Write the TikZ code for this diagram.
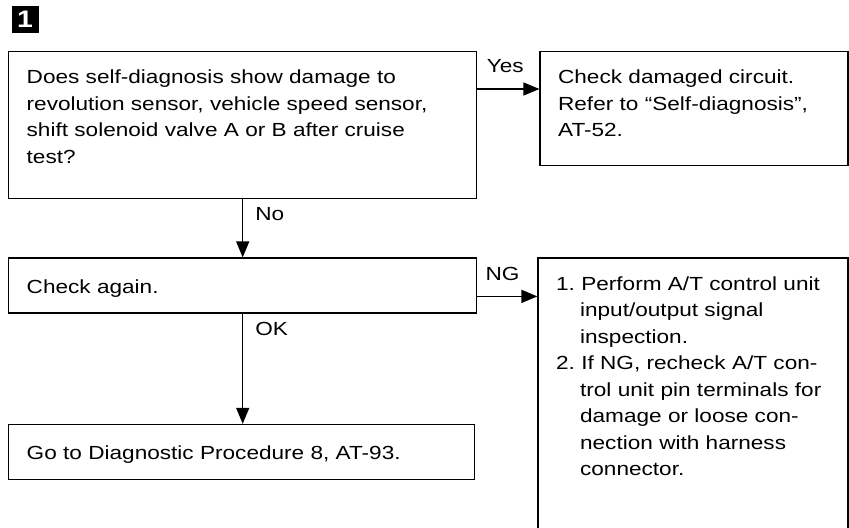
\documentclass[tikz,border=0pt]{standalone}
\usepackage{fontspec}
\setmainfont{Liberation Sans}[FakeStretch=1.19]
\usepackage{xcolor}
\usepackage{tikz}
\usetikzlibrary{arrows.meta, positioning}
\newcommand{\itemcont}{\hspace*{0.48cm}}

\begin{document}
\begin{tikzpicture}[font=\fontsize{10.8}{15.1}\selectfont, line width=0.8pt,
        box/.style={draw, anchor=north west, align=left, inner xsep=0.36cm,
                    inner ysep=0pt, text height=0.64cm},
        flow/.style={-{Triangle[length=0.32cm, width=0.26cm]}},
        lbl/.style={inner sep=0pt}]
        \useasboundingbox (0,0) rectangle (16.98,-10.54);
        % Badge
        \node[fill=black, text=white, minimum size=0.54cm, inner sep=0pt,
              font=\fontsize{13.6}{14}\selectfont\bfseries] (badge) at (0.5,-0.39) {1};
        % Question
        \node[box, text width=8.64cm, text depth=2.3cm] (diag) at (0.16,-1.02)
              {Does self-diagnosis show damage to\\
               revolution sensor, vehicle speed sensor,\\
               shift solenoid valve A or B after cruise\\
               test?};
        \node[box, text width=5.44cm, text depth=1.64cm,
              right=1.24cm of diag.north east, anchor=north west] (circ)
              {Check damaged circuit.\\
               Refer to ``Self-diagnosis'',\\
               AT-52.};
        % Check again
        \node[box, text width=8.64cm, text height=0.7cm, text depth=0.4cm,
              below=1.16cm of diag.south west, anchor=north west] (again)
              {Check again.};
        \node[box, text width=5.48cm, text depth=5.12cm,
              right=1.2cm of again.north east, anchor=north west] (fix)
              {1.~Perform A/T control unit\\
               \itemcont input/output signal\\
               \itemcont inspection.\\
               2.~If NG, recheck A/T con-\\
               \itemcont trol unit pin terminals for\\
               \itemcont damage or loose con-\\
               \itemcont nection with harness\\
               \itemcont connector.};
        \node[box, text width=8.6cm, text height=0.7cm, text depth=0.4cm,
              below=2.2cm of again.south west, anchor=north west] (goto)
              {Go to Diagnostic Procedure 8, AT-93.};
        % Arrows
        \coordinate (yes) at ([yshift=-0.76cm]diag.north east);
        \draw[flow] (yes) -- (yes -| circ.west)
              node[lbl, pos=0.45, above=0.32cm] {Yes};
        \draw[flow] (diag.south) -- (again.north)
              node[lbl, pos=0.25, right=0.24cm] {No};
        \coordinate (ng) at ([yshift=-0.78cm]again.north east);
        \draw[flow] (ng) -- (ng -| fix.west)
              node[lbl, pos=0.42, above=0.3cm] {NG};
        \draw[flow] (again.south) -- (again.south |- goto.north)
              node[lbl, pos=0.14, right=0.24cm] {OK};
\end{tikzpicture}
\end{document}
